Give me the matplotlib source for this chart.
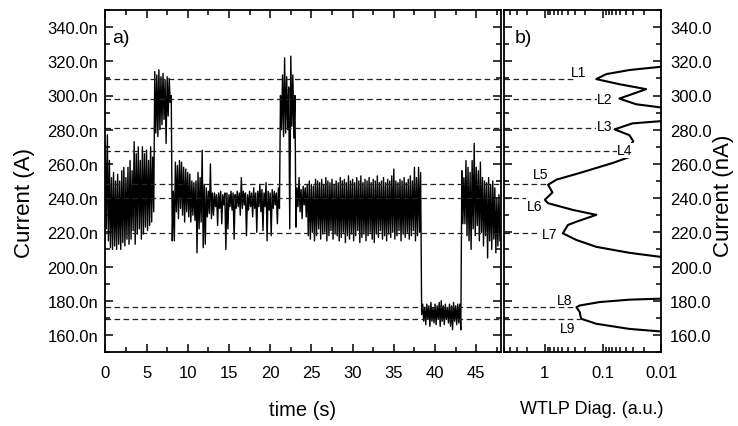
import numpy as np
import matplotlib
matplotlib.use("Agg")
import matplotlib.pyplot as plt
from matplotlib.ticker import MultipleLocator, FuncFormatter, LogLocator, NullFormatter

plt.rcParams['font.family'] = ['Liberation Sans', 'DejaVu Sans']
plt.rcParams['lines.scale_dashes'] = False

# ---------------- data: current trace (envelope per 0.25 s bin, nA) ----------------
bin_width = 0.25
trace_hi = [
    272, 277, 262, 252, 255, 250, 254, 250,
    256, 258, 252, 258, 262, 256, 273, 266,
    270, 262, 270, 266, 268, 262, 270, 264,
    314, 312, 315, 311, 313, 309, 311, 310,
    300, 244, 261, 259, 262, 261, 258, 257,
    255, 254, 250, 249, 250, 255, 252, 268,
    248, 246, 244, 260, 243, 243, 242, 243,
    244, 242, 243, 243, 242, 244, 243, 242,
    244, 243, 252, 244, 243, 242, 244, 243,
    246, 243, 244, 248, 245, 243, 249, 244,
    243, 245, 244, 243, 246, 300, 312, 322,
    311, 305, 323, 312, 300, 246, 252, 245,
    247, 246, 248, 250, 248, 247, 251, 250,
    249, 251, 248, 252, 250, 249, 251, 248,
    250, 249, 252, 250, 251, 249, 253, 250,
    251, 249, 252, 250, 253, 249, 251, 250,
    252, 249, 251, 250, 253, 249, 250, 252,
    249, 251, 250, 253, 257, 250, 249, 251,
    250, 252, 249, 251, 253, 250, 258, 252,
    258, 255, 178, 176, 178, 177, 179, 176,
    178, 177, 179, 180, 177, 178, 176, 178,
    177, 179, 177, 178, 178, 256, 252, 262,
    258, 255, 262, 272, 258, 256, 261, 252,
    250, 249, 252, 248, 250, 246, 240, 242,
]
trace_lo = [
    222, 215, 211, 210, 212, 210, 213, 210,
    214, 212, 216, 213, 216, 221, 213, 219,
    222, 216, 219, 223, 221, 224, 226, 232,
    278, 276, 280, 283, 286, 272, 288, 296,
    215, 215, 232, 228, 234, 230, 226, 232,
    229, 226, 230, 227, 208, 222, 226, 211,
    213, 229, 231, 228, 230, 235, 224, 234,
    225, 236, 210, 222, 235, 233, 216, 234,
    235, 230, 234, 236, 218, 233, 235, 229,
    234, 220, 235, 232, 221, 235, 215, 233,
    218, 234, 236, 225, 234, 280, 276, 278,
    280, 222, 282, 275, 223, 235, 232, 228,
    236, 229, 218, 216, 220, 215, 218, 222,
    216, 219, 220, 215, 218, 221, 216, 219,
    218, 215, 217, 220, 214, 218, 216, 219,
    215, 218, 221, 214, 217, 219, 215, 218,
    220, 216, 214, 219, 217, 221, 216, 218,
    215, 219, 217, 220, 216, 218, 221, 215,
    219, 217, 220, 216, 218, 221, 215, 218,
    220, 172, 168, 166, 169, 165, 168, 167,
    166, 169, 165, 168, 166, 169, 167, 165,
    163, 168, 166, 167, 163, 225, 225, 218,
    215, 210, 222, 218, 224, 215, 220, 212,
    218, 205, 215, 210, 216, 208, 212, 215,
]

# ---------------- data: trap levels ----------------
level_names = ['L1', 'L2', 'L3', 'L4', 'L5', 'L6', 'L7', 'L8', 'L9']
level_values = [309.6, 298.2, 280.8, 267.8, 248.4, 240.0, 219.6, 176.1, 169.4]
level_line_end = [0.33, 0.12, 0.12, 0.055, 0.88, 2.06, 1.14, 0.286, 0.235]
label_x = [0.26, 0.092, 0.094, 0.042, 1.19, 1.51, 0.84, 0.46, 0.41]
label_y = [313.7, 297.8, 282.1, 268.0, 254.3, 235.5, 218.8, 180.4, 163.9]

# ---------------- data: WTLP diagonal ----------------
wtlp_current = [322, 316.8, 314.9, 312.5, 309.6, 306.6, 303.7, 298.2, 294.9, 293, 289,
                285, 283.7, 280.2, 276.8, 273.3, 270, 267.4, 264.5, 260.6, 254.7,
                250.8, 247.8, 243.3, 239, 237, 233.1, 230.2, 226.2, 224.3, 219.4,
                215.5, 211.5, 208, 205.6, 203, 184, 181.2, 180.6, 179.2, 177.2,
                176.2, 173.3, 171.3, 169.4, 166.5, 163.5, 162, 159]
wtlp_value = [0.004, 0.01, 0.035, 0.0875, 0.13, 0.052, 0.018, 0.052, 0.027, 0.01, 0.004,
              0.01, 0.031, 0.063, 0.035, 0.03, 0.035, 0.036, 0.032, 0.067, 0.25,
              0.63, 0.88, 0.74, 1.0, 0.88, 0.33, 0.13, 0.286, 0.4, 0.49,
              0.286, 0.13, 0.035, 0.01, 0.003, 0.003, 0.01, 0.035, 0.114, 0.25,
              0.286, 0.25, 0.245, 0.235, 0.13, 0.035, 0.01, 0.003]

# ---------------- build zig-zag trace from envelope ----------------
n_bins = len(trace_hi)
t_start = np.arange(n_bins) * bin_width
t_trace = np.empty(2 * n_bins)
i_trace = np.empty(2 * n_bins)
t_trace[0::2] = t_start
t_trace[1::2] = t_start + bin_width / 2
i_trace[0::2] = trace_hi
i_trace[1::2] = trace_lo

W, H = 738, 427
fig = plt.figure(figsize=(W / 100, H / 100), dpi=100)
ax_a = fig.add_axes([105.3 / W, 1 - 353 / H, (501 - 105.3) / W, (353 - 11) / H])
ax_b = fig.add_axes([504 / W, 1 - 353 / H, (661 - 504) / W, (353 - 11) / H])

tick_fs = 12
for ax in (ax_a, ax_b):
    for s in ax.spines.values():
        s.set_linewidth(1.3)
    ax.tick_params(which='both', direction='in', top=True, bottom=True,
                   left=True, right=True, width=1.1, labelsize=tick_fs)
    ax.tick_params(which='major', length=6)
    ax.tick_params(which='minor', length=3.5)
    ax.set_ylim(150, 350)
    ax.yaxis.set_major_locator(MultipleLocator(20))
    ax.yaxis.set_minor_locator(MultipleLocator(10))

# panel a
ax_a.plot(t_trace, i_trace, color='black', lw=1.0)
for v in level_values:
    ax_a.axhline(v, color='#222222', lw=0.9, dashes=(4, 2.5))
ax_a.set_xlim(0, 48)
ax_a.xaxis.set_major_locator(MultipleLocator(5))
ax_a.xaxis.set_minor_locator(MultipleLocator(2.5))
ax_a.yaxis.set_major_formatter(FuncFormatter(lambda v, p: f"{v:.1f}n"))
ax_a.tick_params(axis='y', pad=5)
ax_a.tick_params(axis='x', pad=9)
ax_a.text(0.8, 334, 'a)', fontsize=14, ha='left', va='center')

# panel b
ax_b.set_xscale('log')
ax_b.set_xlim(5.05, 0.01)
ax_b.plot(wtlp_value, wtlp_current, color='black', lw=1.5)
for v, xe in zip(level_values, level_line_end):
    ax_b.plot([5.05, xe], [v, v], color='#222222', lw=0.9, dashes=(4, 2.5))
for name, lx, ly in zip(level_names, label_x, label_y):
    ax_b.text(lx, ly, name, fontsize=10, ha='center', va='center',
              bbox=dict(facecolor='white', edgecolor='none', pad=0.3))
ax_b.set_xticks([1, 0.1, 0.01])
ax_b.xaxis.set_major_formatter(FuncFormatter(lambda v, p: {1: '1', 0.1: '0.1', 0.01: '0.01'}.get(round(v, 3), '')))
ax_b.xaxis.set_minor_locator(LogLocator(base=10, subs=np.arange(2, 10) * 0.1, numticks=20))
ax_b.xaxis.set_minor_formatter(NullFormatter())
ax_b.tick_params(axis='y', labelleft=False, labelright=True, pad=6.5)
ax_b.tick_params(axis='x', pad=9)
ax_b.yaxis.set_major_formatter(FuncFormatter(lambda v, p: f"{v:.1f}"))
ax_b.text(0.07, 0.921, 'b)', fontsize=14, ha='left', va='center', transform=ax_b.transAxes)

# axis labels
fig.text(25 / W, 1 - 203 / H, 'Current (A)', rotation=90, fontsize=16,
         ha='center', va='center')
fig.text(303 / W, 1 - 411 / H, 'time (s)', fontsize=14.5, ha='center', va='center')
fig.text(592 / W, 1 - 410 / H, 'WTLP Diag. (a.u.)', fontsize=13, ha='center', va='center')
fig.text(723 / W, 1 - 196 / H, 'Current (nA)', rotation=90, fontsize=16,
         ha='center', va='center')

fig.savefig('out.png', dpi=100)
